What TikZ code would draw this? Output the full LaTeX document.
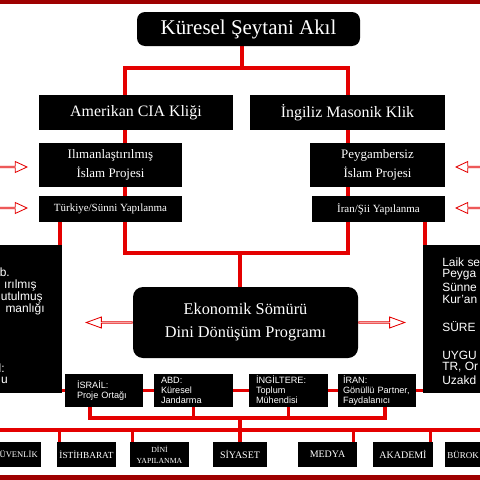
\documentclass[tikz,border=0pt]{standalone}
\usepackage{fontspec}
\setmainfont{Liberation Serif}
\setsansfont{Liberation Sans}
\usetikzlibrary{arrows.meta,calc,positioning,shapes.arrows,backgrounds}
\newlength\pxu
\setlength\pxu{0.025cm}
\definecolor{linkred}{RGB}{228,0,0}
\definecolor{barred}{RGB}{158,0,0}

\begin{document}
\begin{tikzpicture}[x=0.025cm,y=-0.025cm,
  blackbox/.style={fill=black,text=white,inner sep=0pt,align=center},
  redlink/.style={draw=linkred,line width=2.4pt},
  hollow/.style={single arrow,draw=linkred,fill=white,line width=0.6pt,inner sep=0pt,
    minimum width=11\pxu,single arrow head extend=3\pxu,single arrow tip angle=50},
  capsbox/.style={blackbox,minimum height=25\pxu,font=\fontsize{7.1}{7.8}\selectfont},
  tagbox/.style={blackbox,minimum height=33\pxu,inner xsep=7\pxu,align=left,
    font=\sffamily\fontsize{6.5}{7.1}\selectfont},
  sidetext/.style={text=white,inner sep=0pt,font=\sffamily\fontsize{8.5}{9}\selectfont}]
\useasboundingbox (0,0) rectangle (480,480);

% head and the two cliques
\node[blackbox,rounded corners=8\pxu,minimum width=223\pxu,minimum height=34\pxu,font=\fontsize{14.9}{16}\selectfont] (top) at (248.5,29) {Küresel Şeytani Akıl};
\node[blackbox,minimum width=194\pxu,minimum height=35\pxu,font=\fontsize{11.3}{12}\selectfont] (ame) at (136,112.5) {Amerikan CIA Kliği};
\node[blackbox,minimum width=195\pxu,minimum height=35\pxu,font=\fontsize{11.3}{12}\selectfont] (ing) at (347.5,112.5) {İngiliz Masonik Klik};
\node[blackbox,minimum width=143\pxu,minimum height=44\pxu,font=\fontsize{9.2}{13.5}\selectfont] (ilim) at (110.5,165) {Ilımanlaştırılmış\\İslam Projesi};
\node[blackbox,minimum width=135\pxu,minimum height=44\pxu,font=\fontsize{9.2}{13.5}\selectfont] (peyg) at (377.5,165) {Peygambersiz\\İslam Projesi};
\node[blackbox,minimum width=143\pxu,minimum height=26\pxu,font=\fontsize{7.8}{9}\selectfont] (turk) at (110.5,209) {Türkiye/Sünni Yapılanma};
\node[blackbox,minimum width=133\pxu,minimum height=26\pxu,font=\fontsize{7.8}{9}\selectfont] (iran) at (378.5,209) {İran/Şii Yapılanma};

% side panels, cut by the frame
\node[blackbox,minimum width=80\pxu,minimum height=148\pxu,anchor=north east] (lbox) at (62,245) {};
\node[blackbox,minimum width=80\pxu,minimum height=148\pxu,anchor=north west] (rbox) at (423,245) {};
\foreach \yy/\xx/\tx in {272/10/b.,285/37/ırılmış,297/43/utulmuş,309/45/manlığı,368/5/l:,380/8/u}
  \node[sidetext,anchor=east] (lt\yy) at (\xx,\yy) {\tx};
\foreach \yy/\tx in {262/{Laik se},275/Peyga,287/Sünne,299/Kur’an,327/SÜRE,355/UYGU,367/{TR, Or},380/Uzakd}
  \node[sidetext,anchor=west] (rt\yy) at (442,\yy) {\tx};

\node[blackbox,rounded corners=10\pxu,minimum width=225\pxu,minimum height=71\pxu,font=\fontsize{11.6}{16.3}\selectfont] (eko) at (245.5,322.5) {Ekonomik Sömürü\\Dini Dönüşüm Programı};

% partners
\node[tagbox,text width=54\pxu,inner xsep=12\pxu] (isr) at (104,390.5) {İSRAİL:\\Proje Ortağı};
\node[tagbox,text width=65\pxu] (abd) at (193.5,390.5) {ABD:\\Küresel\\Jandarma};
\node[tagbox,text width=65\pxu] (ingt) at (288.5,390) {İNGİLTERE:\\Toplum\\Mühendisi};
\node[tagbox,text width=68\pxu,inner xsep=5\pxu] (irn) at (377,390) {İRAN:\\Gönüllü Partner,\\Faydalanıcı};

% fields
\node[capsbox,text width=50\pxu,inner xsep=3\pxu,align=right,anchor=east,font=\fontsize{6.1}{7.8}\selectfont] (guv) at (41,454.5) {ÜVENLİK};
\node[capsbox,minimum width=59\pxu,font=\fontsize{6.6}{7.8}\selectfont] (ist) at (86.5,454.5) {İSTİHBARAT};
\node[capsbox,minimum width=59\pxu,font=\fontsize{5.5}{7.8}\selectfont] (dini) at (159.5,454.5) {DİNİ\\YAPILANMA};
\node[capsbox,minimum width=54\pxu] (siy) at (240,454.5) {SİYASET};
\node[capsbox,minimum width=59\pxu] (med) at (327.5,454.5) {MEDYA};
\node[capsbox,minimum width=60\pxu] (aka) at (403,454.5) {AKADEMİ};
\node[capsbox,text width=50\pxu,inner xsep=2\pxu,align=left,anchor=west,font=\fontsize{6.4}{7.8}\selectfont] (bur) at (445,454.5) {BÜROK};

% hollow arrows
\node[hollow,minimum height=50\pxu,anchor=tip] (inL1) at (28,167) {};
\node[hollow,minimum height=50\pxu,anchor=tip] (inL2) at (28,208) {};
\node[hollow,shape border rotate=180,minimum height=50\pxu,anchor=tip] (inR1) at (455,167) {};
\node[hollow,shape border rotate=180,minimum height=50\pxu,anchor=tip] (inR2) at (455,208) {};
\node[hollow,shape border rotate=180,minimum height=46\pxu,single arrow tip angle=40,anchor=tail] (outL) at (eko.west) {};
\node[hollow,minimum height=46\pxu,single arrow tip angle=40,anchor=tail] (outR) at (eko.east) {};

\coordinate (stem) at (242,0);
\coordinate (colL) at (125,68);
\coordinate (colR) at (348,68);
\coordinate (joinL) at (125,253);
\coordinate (joinR) at (348,253);
\coordinate (mid) at (240,253);
\coordinate (dropL) at (60,0);
\coordinate (dropR) at (425,0);
\coordinate (bus) at (0,418);
\coordinate (sI) at (90,0);
\coordinate (sN) at (385,0);
\coordinate (gridL) at (0,430);
\coordinate (gridR) at (480,430);

\begin{scope}[on background layer]
\fill[barred] (0,0) rectangle (480,4);
\fill[barred] (0,475) rectangle (480,480);
\draw[redlink] (top.south -| stem) -- (stem |- colL);
\draw[redlink] (ame.north -| colL) -- (colL) -- (colR) -- (ing.north -| colR);
\draw[redlink] (ame.south -| colL) -- (joinL) -- (joinR) -- (ing.south -| colR);
\draw[redlink] (mid) -- (eko.north -| mid);
\draw[redlink] (turk.south -| dropL) -- (lbox.north -| dropL);
\draw[redlink] (iran.south -| dropR) -- (rbox.north -| dropR);
\draw[redlink] (lbox.east |- isr) -- (rbox.west |- isr);
\draw[redlink] (isr.south -| sI) -- (sI |- bus) -- (sN |- bus) -- (irn.south -| sN);
\draw[redlink] (abd.south) -- (abd.south |- bus);
\draw[redlink] (ingt.south) -- (ingt.south |- bus);
\draw[redlink] (siy.north |- bus) -- (siy.north);
\draw[redlink] (gridL) -- (gridR);
\foreach \n/\dx in {ist.north west/3,dini.north west/3,med.north east/-4,aka.north east/-3}
  \draw[redlink] ([xshift=\dx\pxu]\n) -- ([xshift=\dx\pxu]\n |- gridL);
\end{scope}
\end{tikzpicture}
\end{document}
